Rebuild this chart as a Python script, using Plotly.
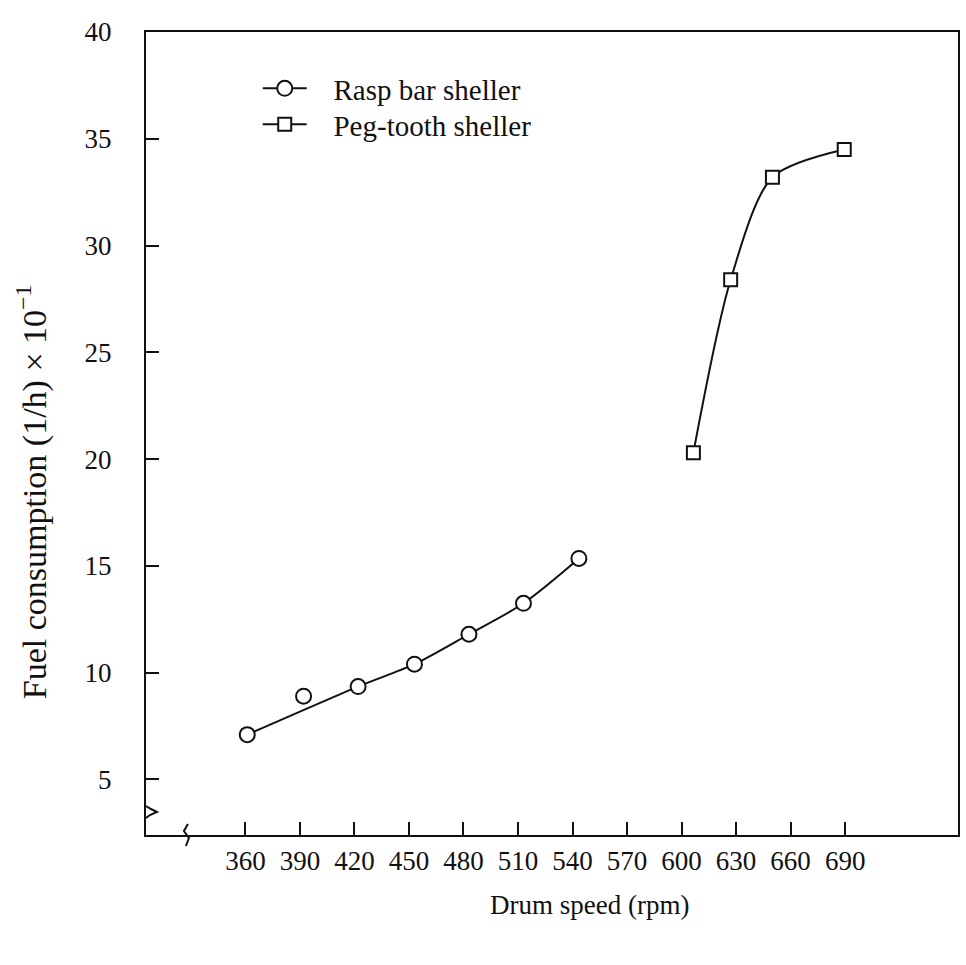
import plotly.graph_objects as go

# ---- data ----
rasp_speed = [361, 392, 422, 453, 483, 513, 543.5]
rasp_fuel = [7.1, 8.9, 9.35, 10.4, 11.8, 13.25, 15.35]
rasp_outlier_index = 1  # point lying off the fitted curve

peg_speed = [606.5, 627, 650, 689.5]
peg_fuel = [20.3, 28.4, 33.2, 34.5]

x_tick_vals = [360, 390, 420, 450, 480, 510, 540, 570, 600, 630, 660, 690]
y_tick_vals = [5, 10, 15, 20, 25, 30, 35, 40]

FONT = "Liberation Serif"
INK = "#111111"
GAP = "\u00a0\u00a0\u00a0"

W, H = 966, 965
ML, MR, MT, MB = 146, 6, 32, 130
X_RANGE = [305.3, 752.1]
Y_RANGE = [2.4, 40]

curve_x = [v for i, v in enumerate(rasp_speed) if i != rasp_outlier_index]
curve_y = [v for i, v in enumerate(rasp_fuel) if i != rasp_outlier_index]

fig = go.Figure()

# legend entries (line + marker symbol)
fig.add_trace(go.Scatter(x=[None], y=[None], mode="lines+markers", name=GAP + "Rasp bar sheller",
                         legend="legend",
                         line=dict(color=INK, width=2),
                         marker=dict(symbol="circle", size=15, color="white",
                                     line=dict(color=INK, width=2))))
fig.add_trace(go.Scatter(x=[None], y=[None], mode="lines+markers", name=GAP + "Peg-tooth sheller",
                         legend="legend2",
                         line=dict(color=INK, width=2),
                         marker=dict(symbol="square", size=13, color="white",
                                     line=dict(color=INK, width=2))))

# rasp bar fitted curve
fig.add_trace(go.Scatter(x=curve_x, y=curve_y, mode="lines", showlegend=False,
                         line=dict(color=INK, width=2, shape="spline", smoothing=0.8),
                         hoverinfo="skip"))
# rasp bar points
fig.add_trace(go.Scatter(x=rasp_speed, y=rasp_fuel, mode="markers", showlegend=False,
                         marker=dict(symbol="circle", size=15, color="white",
                                     line=dict(color=INK, width=2))))
# peg-tooth curve + points
fig.add_trace(go.Scatter(x=peg_speed, y=peg_fuel, mode="lines+markers", showlegend=False,
                         line=dict(color=INK, width=2, shape="spline", smoothing=0.8),
                         marker=dict(symbol="square", size=13, color="white",
                                     line=dict(color=INK, width=2))))

axis_common = dict(showline=True, linecolor=INK, linewidth=2.2, mirror=True,
                   showgrid=False, zeroline=False, ticks="inside", ticklen=13,
                   tickwidth=2, tickcolor=INK,
                   tickfont=dict(family=FONT, size=27, color=INK))

fig.update_xaxes(range=X_RANGE, tickmode="array", tickvals=x_tick_vals,
                 ticktext=[str(v) for v in x_tick_vals], ticklabelstandoff=0,
                 **axis_common)
fig.update_yaxes(range=Y_RANGE, tickmode="array", tickvals=y_tick_vals,
                 ticktext=[str(v) for v in y_tick_vals], ticklabelstandoff=27,
                 **axis_common)

def px2paper(px, py):
    return (px - ML) / (W - ML - MR), (H - MB - py) / (H - MT - MB)

# axis break marks (decoration)
def path_from_pixels(pts):
    s = ""
    for k, (px, py) in enumerate(pts):
        x, y = px2paper(px, py)
        s += ("M" if k == 0 else "L") + f"{x:.5f},{y:.5f} "
    return s.strip()

fig.add_shape(type="path", xref="paper", yref="paper",
              path=path_from_pixels([(146, 818), (150, 815), (157, 812), (151, 809), (146, 806)]),
              line=dict(color=INK, width=2))
fig.add_shape(type="path", xref="paper", yref="paper",
              path=path_from_pixels([(188, 824), (184, 831), (189, 838), (186, 846)]),
              line=dict(color=INK, width=2))

fig.add_annotation(text="Drum speed (rpm)", xref="paper", yref="paper",
                   x=px2paper(591, 905)[0], y=px2paper(591, 905)[1],
                   showarrow=False, font=dict(family=FONT, size=27, color=INK),
                   xanchor="center", yanchor="middle")
fig.add_annotation(text="Fuel consumption (1/h) × 10<sup>−1</sup>", xref="paper", yref="paper",
                   x=px2paper(31, 492)[0], y=px2paper(31, 492)[1], textangle=-90,
                   showarrow=False, font=dict(family=FONT, size=34, color=INK),
                   xanchor="center", yanchor="middle")

legend_style = dict(xanchor="left", yanchor="top", bgcolor="rgba(0,0,0,0)",
                    font=dict(family=FONT, size=29, color=INK), itemwidth=44)
l1x, l1y = px2paper(258, 63)
l2x, l2y = px2paper(258, 99)
fig.update_layout(
    width=W, height=H,
    margin=dict(l=ML, r=MR, t=MT, b=MB),
    paper_bgcolor="white", plot_bgcolor="white",
    font=dict(family=FONT, color=INK),
    legend=dict(x=l1x, y=l1y, **legend_style),
    legend2=dict(x=l2x, y=l2y, **legend_style),
)

fig.write_html("out.html")
